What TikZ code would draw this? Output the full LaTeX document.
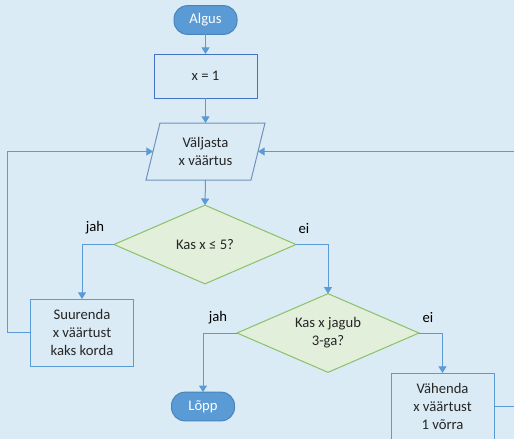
\documentclass[tikz,border=0pt]{standalone}
\usepackage{fontspec}
\setmainfont{Carlito}
\usetikzlibrary{shapes.geometric,arrows.meta}
\definecolor{bg}{HTML}{DAEBF5}
\definecolor{conn}{HTML}{5B9BD5}
\definecolor{termfill}{HTML}{5B9BD5}
\definecolor{termdraw}{HTML}{4A84BC}
\definecolor{boxdraw}{HTML}{4472C4}
\definecolor{procdraw}{HTML}{5B9BD5}
\definecolor{paradraw}{HTML}{6F93BD}
\definecolor{decfill}{HTML}{E2EFDA}
\definecolor{decdraw}{HTML}{8CC068}
\definecolor{txt}{HTML}{262626}
\tikzset{
  every node/.style={font=\fontsize{11pt}{13.5pt}\selectfont, text=txt, align=center, inner sep=0pt, outer sep=0pt},
  term/.style={rounded corners=10pt, fill=termfill, draw=termdraw, line width=0.75pt, minimum width=47.25pt, minimum height=21.5pt, text=white},
  proc/.style={rectangle, draw=procdraw, fill=bg, line width=0.75pt, minimum width=77.25pt, minimum height=50.25pt},
  dec/.style={diamond, draw=decdraw, fill=decfill, line width=0.75pt, minimum width=136.5pt, minimum height=59pt, shape aspect=2.3},
  lbl/.style={text=black},
  conn/.style={draw=conn, line width=0.75pt, -{Triangle[width=6pt,length=5pt]}},
  plain/.style={draw=conn, line width=0.75pt}
}
\begin{document}
\begin{tikzpicture}[x=0.75pt,y=-0.75pt]
\fill[bg] (0,0) rectangle (514,439);
\useasboundingbox (0,0) rectangle (514,439);
\clip (0,0) rectangle (514,439);
% nodes
\node[term] (algus) at (205.5,20) {Algus};
\node[proc, draw=boxdraw, minimum height=33pt] (x1) at (205.5,76) {x = 1};
\draw[draw=paradraw, fill=bg, line width=0.75pt] (160,123) -- (265,123) -- (251,180) -- (146,180) -- cycle;
\node (val) at (205.5,151.5) {Väljasta\\x väärtus};
\coordinate (valtop) at (205.5,123);
\coordinate (valbot) at (205.5,180);
\coordinate (vl) at (153,151.5);
\coordinate (vr) at (258,151.5);
\node[dec] (d1) at (205,244.5) {Kas x ≤ 5?};
\node[proc] (suur) at (82,332.5) {Suurenda\\x väärtust\\kaks korda};
\node[dec] (d2) at (328,333) {Kas x jagub\\3-ga?};
\node[term] (lopp) at (203,406.5) {Lõpp};
\node[proc] (vah) at (442.5,406.5) {Vähenda\\x väärtust\\1 võrra};
\coordinate (cl) at (7,151.5);
\coordinate (cr) at (520,151.5);
\coordinate (cr2) at (520,406.5);
% labels
\node[lbl] (l1) at (95,228) {jah};
\node[lbl] (l2) at (304,229) {ei};
\node[lbl] (l3) at (218,318) {jah};
\node[lbl] (l4) at (428,318) {ei};
% connectors
\draw[conn] (algus.south) -- (x1.north);
\draw[conn] (x1.south) -- (valtop);
\draw[conn] (valbot) -- (d1.north);
\draw[conn] (d1.west) -| (suur.north);
\draw[conn] (d1.east) -| (d2.north);
\draw[conn] (d2.west) -| (lopp.north);
\draw[conn] (d2.east) -| (vah.north);
\draw[conn] (suur.west) -| (cl) -- (vl);
\draw[conn] (cr) -- (vr);
\draw[plain] (vah.east) -- (cr2);
\end{tikzpicture}
\end{document}
